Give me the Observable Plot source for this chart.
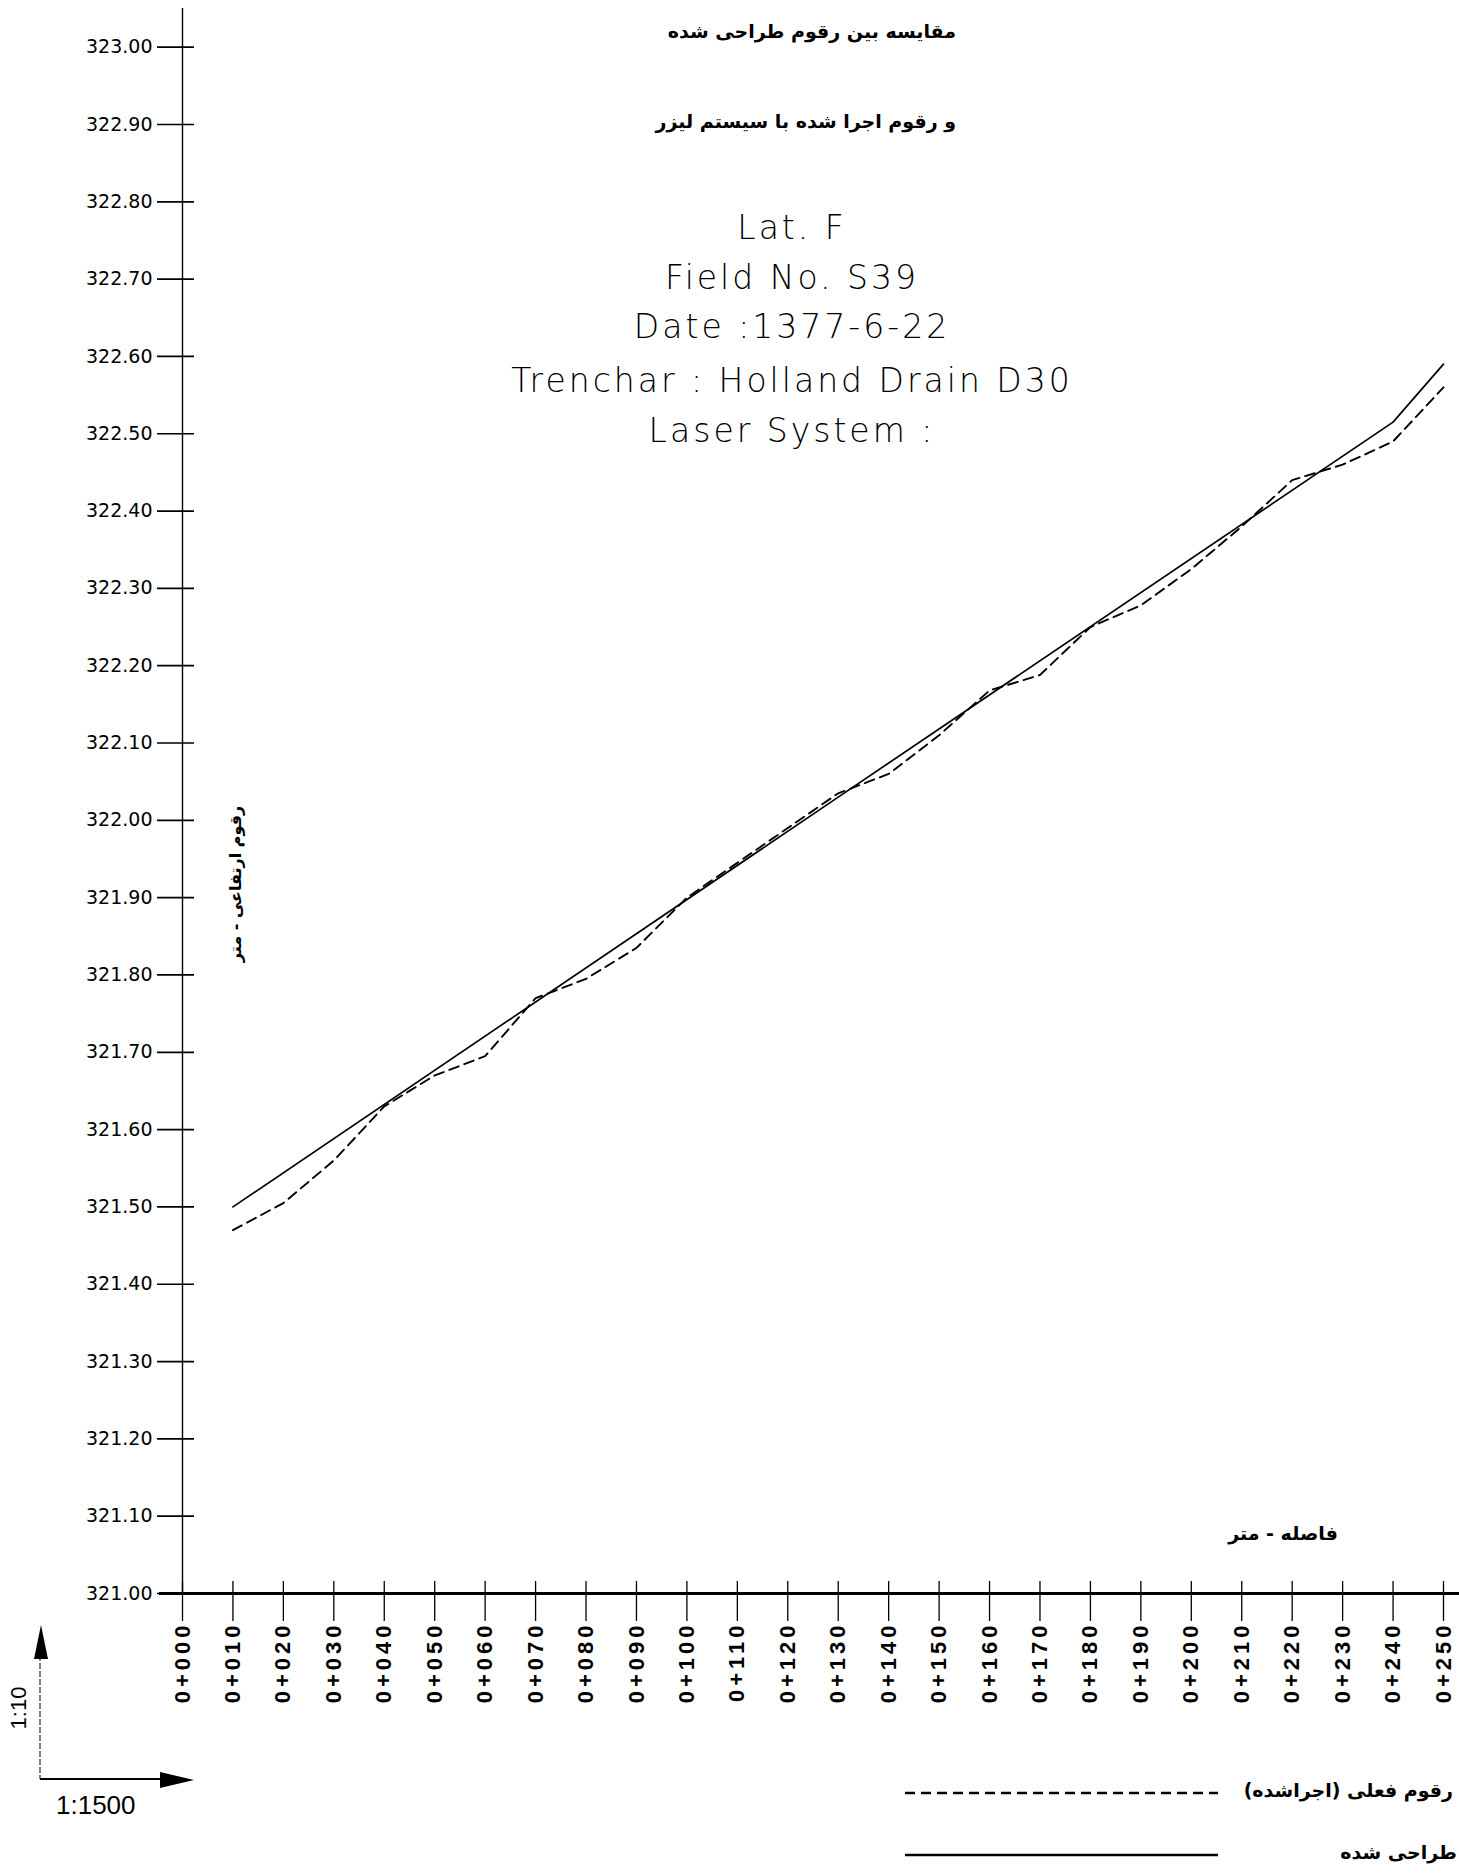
<!DOCTYPE html>
<html><head><meta charset="utf-8">
<script src="https://cdn.jsdelivr.net/npm/d3@7"></script>
<script src="https://cdn.jsdelivr.net/npm/@observablehq/plot@0.6"></script>
<style>
body{margin:0;background:#fff;}
#wrap{position:relative;width:1459px;height:1873px;overflow:hidden;background:#fff;}
#wrap svg.plot{position:absolute;left:0;top:0;}
.fa{position:absolute;direction:rtl;font-family:"DejaVu Sans";font-weight:bold;white-space:nowrap;color:#000;line-height:1;}
.en{position:absolute;font-family:"DejaVu Sans";font-weight:200;white-space:pre;transform:translate(-50%,-50%);font-size:33px;letter-spacing:3px;line-height:1;color:#000;}
g[aria-label="x-axis tick label"] text{letter-spacing:4px;}
</style></head><body><div id="wrap"></div>
<script>
// ---- data ----
const stations = [0,10,20,30,40,50,60,70,80,90,100,110,120,130,140,150,160,170,180,190,200,210,220,230,240,250];
const stationLabels = ["0+000","0+010","0+020","0+030","0+040","0+050","0+060","0+070","0+080","0+090","0+100","0+110","0+120","0+130","0+140","0+150","0+160","0+170","0+180","0+190","0+200","0+210","0+220","0+230","0+240","0+250"];
const yTicks = [321.0,321.1,321.2,321.3,321.4,321.5,321.6,321.7,321.8,321.9,322.0,322.1,322.2,322.3,322.4,322.5,322.6,322.7,322.8,322.9,323.0];
// design levels (solid)
const designStation = [10, 130, 240, 250];
const designLevel = [321.50, 322.03, 322.515, 322.59];
// actual (as-built, laser) levels (dashed)
const actualStation = [10,20,30,40,50,60,70,80,90,100,110,120,130,140,150,160,170,180,190,200,210,220,230,240,250];
const actualLevel = [321.47,321.505,321.56,321.63,321.67,321.695,321.77,321.795,321.835,321.90,321.945,321.99,322.035,322.06,322.11,322.168,322.188,322.25,322.278,322.325,322.38,322.44,322.46,322.49,322.56];

const design = designStation.map((s,i)=>({s, v: designLevel[i]}));
const actual = actualStation.map((s,i)=>({s, v: actualLevel[i]}));

const chart = Plot.plot({
  width: 1459, height: 1720,
  marginLeft: 182, marginRight: 16, marginTop: 8, marginBottom: 127,
  x: {domain: [0, 250], axis: null},
  y: {domain: [321, 323.05], axis: null},
  style: {background: "transparent", color: "#000", overflow: "visible"},
  marks: [
    Plot.ruleX([0], {stroke: "#000", strokeWidth: 1.4}),
    Plot.ruleY([321], {stroke: "#000", strokeWidth: 2.8, insetLeft: -23, insetRight: -16}),
    Plot.axisY(yTicks, {anchor: "left", tickSize: 37, dx: 12, tickPadding: 5,
      tickFormat: d3.format(".2f"), fontSize: 19, fontFamily: "DejaVu Sans", strokeWidth: 1.7, label: null}),
    Plot.axisX(stations, {anchor: "bottom", tickSize: 40, dy: -12, tickPadding: 0, tickRotate: -90,
      textAnchor: "end", lineAnchor: "middle",
      tickFormat: d => stationLabels[stations.indexOf(d)],
      fontSize: 22, fontWeight: "bold", fontFamily: "Liberation Sans", strokeWidth: 1.3, label: null}),
    Plot.line(design, {x: "s", y: "v", stroke: "#000", strokeWidth: 1.7}),
    Plot.line(actual, {x: "s", y: "v", stroke: "#000", strokeWidth: 1.9, strokeDasharray: "10,6"})
  ]
});
const wrap = document.getElementById("wrap");
wrap.appendChild(chart);

function addText(cls, txt, css){
  const d = document.createElement("div");
  d.className = cls; d.textContent = txt;
  Object.assign(d.style, css);
  wrap.appendChild(d);
  return d;
}
// Persian titles
addText("fa", "مقایسه بین رقوم طراحی  شده", {right: "503px", top: "22px", fontSize: "19px"});
addText("fa", "و رقوم اجرا شده با سیستم لیزر", {right: "503px", top: "112px", fontSize: "19px"});
// English block
const en = ["Lat. F", "Field No. S39", "Date :1377-6-22", "Trenchar : Holland Drain D30", "Laser System :"];
const enY = [227, 277, 326, 380, 430];
en.forEach((t,i)=>addText("en", t, {left: "792px", top: enY[i]+"px"}));
// axis titles
addText("fa", "رقوم ارتفاعی - متر", {left: "236px", top: "884px", fontSize: "16px",
  transform: "translate(-50%,-50%) rotate(-90deg)"});
addText("fa", "فاصله - متر", {left: "1283px", top: "1533px", fontSize: "19px",
  transform: "translate(-50%,-50%)"});
// legend
addText("fa", "رقوم فعلی (اجراشده)", {right: "6px", top: "1781px", fontSize: "19px"});
addText("fa", "طراحی شده", {right: "2px", top: "1843px", fontSize: "19px"});

// scale indicator + legend swatches (decoration)
const ns = "http://www.w3.org/2000/svg";
const deco = document.createElementNS(ns, "svg");
deco.setAttribute("width", 1459); deco.setAttribute("height", 1873);
deco.style.position = "absolute"; deco.style.left = "0"; deco.style.top = "0"; deco.style.pointerEvents = "none";
deco.innerHTML = `
  <line x1="40" y1="1655" x2="40" y2="1779" stroke="#000" stroke-width="1" stroke-dasharray="6,2"/>
  <polygon points="41,1625 34,1659 48,1659" fill="#000"/>
  <line x1="40" y1="1779" x2="162" y2="1779" stroke="#000" stroke-width="2"/>
  <polygon points="160,1772 194,1780 160,1788" fill="#000"/>
  <text x="18" y="1708" font-family="Liberation Sans" font-size="22" text-anchor="middle" dominant-baseline="central" transform="rotate(-90 18 1708)">1:10</text>
  <text x="56" y="1814" font-family="Liberation Sans" font-size="26">1:1500</text>
  <line x1="905" y1="1793" x2="1218" y2="1793" stroke="#000" stroke-width="2.4" stroke-dasharray="10,6"/>
  <line x1="905" y1="1855" x2="1218" y2="1855" stroke="#000" stroke-width="2.4"/>
`;
wrap.appendChild(deco);
</script>
</body></html>
